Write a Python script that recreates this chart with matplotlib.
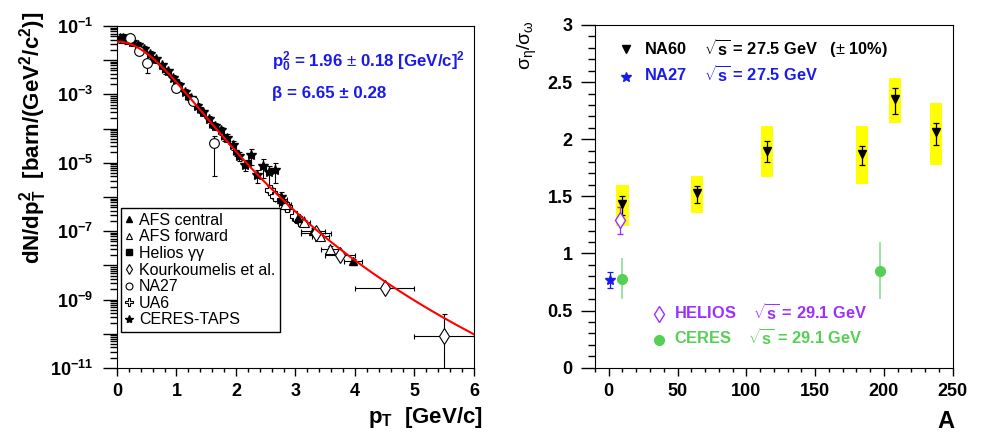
import matplotlib
matplotlib.use("Agg")
import matplotlib.pyplot as plt
from matplotlib.lines import Line2D
from matplotlib.ticker import MultipleLocator, LogLocator, FuncFormatter, NullFormatter
import numpy as np

plt.rcParams['font.family'] = ['Liberation Sans', 'DejaVu Sans']
plt.rcParams['font.weight'] = 'bold'
plt.rcParams['mathtext.fontset'] = 'custom'
plt.rcParams['mathtext.rm'] = 'Liberation Sans:weight=normal'
plt.rcParams['mathtext.it'] = 'Liberation Sans:italic'
plt.rcParams['mathtext.bf'] = 'Liberation Sans:bold'

# ---- left panel: eta pT spectra ----
# fit parameters (shown on the plot)
fit_norm = 0.035
fit_p0sq = 1.96
fit_beta = 6.65

ceres_pt = [0.05, 0.10, 0.15, 0.25, 0.35, 0.45, 0.55, 0.65, 0.75, 0.85, 0.95, 1.05, 1.15, 1.25, 1.35,
            1.45, 1.55, 1.65, 1.75, 1.85, 1.95, 2.05, 2.15, 2.25, 2.35, 2.45, 2.55, 2.65, 2.75]
ceres_y = [4.4e-2, 4.5e-2, 4.3e-2, 3.5e-2, 2.8e-2, 2.1e-2, 1.5e-2, 1.05e-2, 7.1e-3, 4.7e-3, 3.0e-3,
           1.9e-3, 1.17e-3, 7.6e-4, 4.7e-4, 3.0e-4, 1.9e-4, 1.2e-4, 8.9e-5, 5.4e-5, 3.3e-5, 1.6e-5,
           8.9e-6, 1.7e-5, 4.4e-6, 8.1e-6, 5.2e-6, 6.2e-6, 1.0e-6]
ceres_rel = [0.3, 0.3, 0.3, 0.25, 0.2, 0.2, 0.2, 0.2, 0.2, 0.2, 0.2, 0.2, 0.2, 0.2, 0.2,
             0.2, 0.2, 0.25, 0.25, 0.25, 0.3, 0.3, 0.35, 0.5, 0.4, 0.55, 0.6, 0.6, 0.4]

na27_pt = [0.22, 0.37, 0.50, 0.99, 1.28, 1.63]
na27_y = [4.5e-2, 1.8e-2, 8.1e-3, 1.5e-3, 6.2e-4, 3.8e-5]
na27_lo = [0.9e-2, 0.4e-2, 3.8e-3, 0.3e-3, 1.2e-4, 3.4e-5]
na27_hi = [0.9e-2, 0.4e-2, 1.6e-3, 0.3e-3, 1.2e-4, 2.2e-5]

helios_pt = [0.6, 0.8, 1.0, 1.2, 1.4, 1.6, 1.8, 2.0, 2.2]
helios_y = [1.07e-2, 5.0e-3, 2.4e-3, 8.3e-4, 3.6e-4, 1.26e-4, 5.6e-5, 2.0e-5, 1.0e-5]

ua6_pt = [2.57, 2.66, 2.85, 2.99, 3.08]
ua6_y = [1.6e-6, 1.1e-6, 5.0e-7, 2.8e-7, 2.0e-7]

afsf_pt = [2.82, 3.15, 3.42, 3.58]
afsf_y = [6.3e-7, 1.8e-7, 7.1e-8, 3.0e-8]
afsf_xerr = [0.1, 0.1, 0.15, 0.15]

afsc_pt = [2.75, 3.05, 3.30, 3.97]
afsc_y = [8.9e-7, 2.5e-7, 1.0e-7, 1.3e-8]
afsc_xerr = [0.1, 0.1, 0.2, 0.15]

kourk_pt = [3.35, 3.75, 4.5, 5.5]
kourk_y = [8.9e-8, 2.0e-8, 2.2e-9, 8.9e-11]
kourk_xerr = [0.25, 0.25, 0.5, 0.5]
kourk_lo = [1.8e-8, 4.0e-9, 3.3e-10, 8.8e-11]
kourk_hi = [1.8e-8, 4.0e-9, 3.3e-10, 2.9e-10]

# ---- right panel: eta/omega vs A ----
na60_A = [10, 64, 115, 184, 208, 238]
na60_r = [1.43, 1.53, 1.90, 1.87, 2.35, 2.06]
na60_lo = [0.09, 0.09, 0.10, 0.10, 0.13, 0.11]
na60_hi = [0.07, 0.06, 0.08, 0.07, 0.10, 0.08]
na60_sys_lo = [1.24, 1.35, 1.67, 1.61, 2.14, 1.77]
na60_sys_hi = [1.60, 1.68, 2.12, 2.12, 2.54, 2.32]

na27_A = [1]
na27_r = [0.77]
na27_err = [0.07]

helios_A = [8]
helios_r = [1.29]
helios_err = [0.12]

ceresA = [9.5, 197]
ceres_r = [0.78, 0.85]
ceres_err = [0.18, 0.25]

blue = "#1a1aee"
purple = "#9b30ff"
green = "#55d055"
lgreen = "#8fdf8f"

fig = plt.figure(figsize=(9.88, 4.36), dpi=100)

# ================= left =================
ax1 = fig.add_axes([0.1184, 0.156, 0.3613, 0.7844])
ax1.set_yscale('log')

ek = dict(ecolor='k', elinewidth=0.8, capsize=1.8, capthick=0.8, ls='none', zorder=3)
ax1.errorbar(ceres_pt, ceres_y, xerr=0.05, yerr=np.array(ceres_y) * np.array(ceres_rel),
             marker='*', ms=7, mfc='k', mec='k', **ek)
ax1.errorbar(helios_pt, helios_y, xerr=0.05, yerr=np.array(helios_y) * 0.2,
             marker='s', ms=3.5, mfc='k', mec='k', **ek)
ax1.errorbar(na27_pt, na27_y, xerr=0.05, yerr=[na27_lo, na27_hi],
             marker='o', ms=7, mfc='white', mec='k', mew=0.8, **ek)
ax1.errorbar(ua6_pt, ua6_y, xerr=0.05, yerr=np.array(ua6_y) * 0.2,
             marker='P', ms=7, mfc='white', mec='k', mew=0.8, **ek)
ax1.errorbar(afsf_pt, afsf_y, xerr=afsf_xerr, yerr=np.array(afsf_y) * 0.2,
             marker='^', ms=7, mfc='white', mec='k', mew=0.8, **ek)
ax1.errorbar(afsc_pt, afsc_y, xerr=afsc_xerr, yerr=np.array(afsc_y) * 0.2,
             marker='^', ms=6, mfc='k', mec='k', **ek)
ax1.errorbar(kourk_pt, kourk_y, xerr=kourk_xerr, yerr=[kourk_lo, kourk_hi],
             marker='d', ms=8, mfc='white', mec='k', mew=0.8, **ek)

pt_fit = np.linspace(0, 6, 400)
ax1.plot(pt_fit, fit_norm * (1 + pt_fit**2 / fit_p0sq) ** (-fit_beta), color='red', lw=1.5, zorder=5)

ax1.set_xlim(0, 6)
ax1.set_ylim(1e-11, 1e-1)
ax1.xaxis.set_major_locator(MultipleLocator(1))
ax1.xaxis.set_minor_locator(MultipleLocator(0.2))
ax1.yaxis.set_major_locator(LogLocator(base=10, numticks=20))
ax1.yaxis.set_minor_locator(LogLocator(base=10, subs=np.arange(2, 10), numticks=20))
ax1.yaxis.set_minor_formatter(NullFormatter())


def logfmt(v, pos):
    e = int(round(np.log10(v)))
    return r"$\mathbf{10^{%d}}$" % e if e % 2 else ""


ax1.yaxis.set_major_formatter(FuncFormatter(logfmt))
ax1.tick_params(which='both', direction='out', top=False, right=False, labelsize=13, width=1)
ax1.tick_params(axis='y', which='major', length=10, pad=7)
ax1.tick_params(axis='y', which='minor', length=5)
ax1.tick_params(axis='x', which='major', length=6, pad=5)
ax1.tick_params(axis='x', which='minor', length=3)

ax1.set_ylabel(r"dN/dp$_\mathbf{T}^\mathbf{2}$  [barn/(GeV$^\mathbf{2}$/c$^\mathbf{2}$)]",
               fontsize=16, fontweight='bold', loc='top')
ax1.yaxis.set_label_coords(-0.235, 1.041)
ax1.yaxis.label.set_va('center')
ax1.set_xlabel(r"p$_\mathbf{T}$  [GeV/c]", fontsize=16, fontweight='bold', loc='right')
ax1.xaxis.set_label_coords(1.025, -0.146)
ax1.xaxis.label.set_va('center')

ax1.text(0.433, 0.896, r"p$_\mathbf{0}^\mathbf{2}$ = 1.96 $\pm$ 0.18 [GeV/c]$^\mathbf{2}$",
         transform=ax1.transAxes, color=blue, fontsize=12.2, fontweight='bold', va='center')
ax1.text(0.433, 0.804, "β = 6.65 ± 0.28", transform=ax1.transAxes, color=blue,
         fontsize=12.2, fontweight='bold', va='center')

handles = [
    Line2D([], [], ls='none', marker='^', ms=5, mfc='k', mec='k'),
    Line2D([], [], ls='none', marker='^', ms=5, mfc='white', mec='k', mew=0.8),
    Line2D([], [], ls='none', marker='s', ms=4, mfc='k', mec='k'),
    Line2D([], [], ls='none', marker='d', ms=5, mfc='white', mec='k', mew=0.8),
    Line2D([], [], ls='none', marker='o', ms=5, mfc='white', mec='k', mew=0.8),
    Line2D([], [], ls='none', marker='P', ms=6, mfc='white', mec='k', mew=0.8),
    Line2D([], [], ls='none', marker='*', ms=6, mfc='k', mec='k'),
]
labels = ["AFS central", "AFS forward", "Helios γγ", "Kourkoumelis et al.", "NA27", "UA6", "CERES-TAPS"]
leg = ax1.legend(handles, labels, loc='upper left', bbox_to_anchor=(0.0104, 0.468), borderaxespad=0,
                 prop=dict(size=11.5, weight='normal'), handlelength=0.5, handletextpad=0.35,
                 borderpad=0.3, labelspacing=0.1, fancybox=False, framealpha=1, edgecolor='k')
leg.get_frame().set_linewidth(1)

# ================= right =================
ax2 = fig.add_axes([0.6022, 0.1567, 0.362, 0.786])
ax2.bar(na60_A, np.array(na60_sys_hi) - np.array(na60_sys_lo), bottom=na60_sys_lo, width=9,
        color='#ffff00', zorder=1)
ax2.errorbar(na60_A, na60_r, yerr=[na60_lo, na60_hi], ls='none', marker='v', ms=6, color='k',
             elinewidth=0.9, capsize=2, capthick=0.9, zorder=3)
ax2.errorbar(na27_A, na27_r, yerr=na27_err, ls='none', marker='*', ms=7, color=blue,
             elinewidth=0.9, capsize=2, capthick=0.9, zorder=3)
ax2.errorbar(helios_A, helios_r, yerr=helios_err, ls='none', marker='d', ms=8, color=purple,
             mfc='white', mew=1, elinewidth=0.9, capsize=2, capthick=0.9, zorder=3)
ax2.errorbar(ceresA, ceres_r, yerr=ceres_err, ls='none', marker='o', ms=7, color=green,
             ecolor=lgreen, elinewidth=1.2, capsize=0, zorder=3)

ax2.set_xlim(-10, 250)
ax2.set_ylim(0, 3)
ax2.xaxis.set_major_locator(MultipleLocator(50))
ax2.xaxis.set_minor_locator(MultipleLocator(10))
ax2.yaxis.set_major_locator(MultipleLocator(0.5))
ax2.yaxis.set_minor_locator(MultipleLocator(0.1))
ax2.yaxis.set_major_formatter(FuncFormatter(lambda v, p: "%g" % v))
ax2.tick_params(which='both', direction='out', top=False, right=False, labelsize=13, width=1)
ax2.tick_params(axis='y', which='major', length=10, pad=6)
ax2.tick_params(axis='y', which='minor', length=5)
ax2.tick_params(axis='x', which='major', length=6, pad=5)
ax2.tick_params(axis='x', which='minor', length=3)

ax2.set_ylabel(r"$\mathrm{\sigma_{\eta}/\sigma_{\omega}}$", fontsize=14, fontweight='normal', loc='top')
ax2.yaxis.set_label_coords(-0.19, 1.015)
ax2.yaxis.label.set_va('center')
ax2.set_xlabel("A", fontsize=17, fontweight='bold', loc='right')
ax2.xaxis.set_label_coords(1.006, -0.158)
ax2.xaxis.label.set_va('center')

h1 = [Line2D([], [], ls='none', marker='v', ms=6, color='k'),
      Line2D([], [], ls='none', marker='*', ms=7, color=blue)]
l1 = [r"NA60    $\sqrt{\mathbf{s}}$ = 27.5 GeV   ($\pm$ 10%)", r"NA27    $\sqrt{\mathbf{s}}$ = 27.5 GeV"]
lg1 = ax2.legend(h1, l1, loc='upper left', bbox_to_anchor=(0.065, 0.966), borderaxespad=0, borderpad=0,
                 prop=dict(size=11.8, weight='bold'), handlelength=1, handletextpad=0.6,
                 labelspacing=0.35, frameon=False, labelcolor='linecolor')
ax2.add_artist(lg1)

h2 = [Line2D([], [], ls='none', marker='d', ms=8, color=purple, mfc='white', mew=1),
      Line2D([], [], ls='none', marker='o', ms=7, color=green)]
l2 = [r"HELIOS    $\sqrt{\mathbf{s}}$ = 29.1 GeV", r"CERES    $\sqrt{\mathbf{s}}$ = 29.1 GeV"]
ax2.legend(h2, l2, loc='upper left', bbox_to_anchor=(0.155, 0.190), borderaxespad=0, borderpad=0,
           prop=dict(size=11.8, weight='bold'), handlelength=1, handletextpad=0.42,
           labelspacing=0.35, frameon=False, labelcolor='linecolor')

fig.savefig("out.png", dpi=100)
